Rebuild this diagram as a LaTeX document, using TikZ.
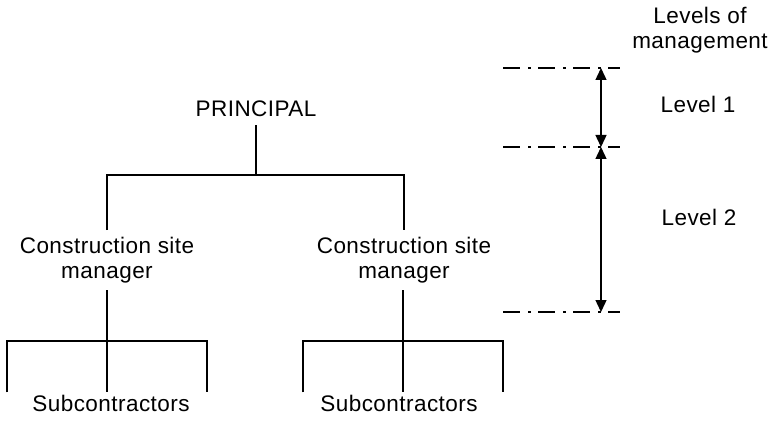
\documentclass[tikz,border=0pt]{standalone}
\usepackage{fontspec}
\setmainfont{Liberation Sans}[LetterSpace=2]
\usetikzlibrary{arrows.meta}
\begin{document}
\begin{tikzpicture}[x=1pt,y=-1pt,
  txt/.style={inner sep=0pt,font=\fontsize{22.5}{25}\selectfont,align=center},
  tree/.style={line width=1.8pt},
  levelline/.style={line width=1.6pt,dash pattern=on 17pt off 8pt on 3pt off 7pt},
  span/.style={line width=1.4pt,{Triangle[length=12pt,width=11pt]}-{Triangle[length=12pt,width=11pt]}}]
\useasboundingbox[fill=white] (0,0) rectangle (773,422);

% top of the hierarchy
\node[txt,anchor=base,inner ysep=8pt] (pr) at (256,117) {PRINCIPAL};
\coordinate (j0) at (256,175);
\coordinate (jL) at (107,175);
\coordinate (jR) at (404,175);

% site managers
\node[txt,anchor=north,inner ysep=7pt] (m1) at (107,230) {Construction site\\manager};
\node[txt,anchor=north,inner ysep=7pt] (m2) at (404,230) {Construction site\\manager};

% subcontractor groups
\coordinate (a0) at (107,341);
\coordinate (aL) at (7,341);
\coordinate (aR) at (207,341);
\coordinate (b0) at (403,341);
\coordinate (bL) at (303,341);
\coordinate (bR) at (503,341);
\node[txt,anchor=base,inner ysep=2pt] (s1) at (111,411) {Subcontractors};
\node[txt,anchor=base,inner ysep=2pt] (s2) at (399,411) {Subcontractors};

% tree connectors
\draw[tree] (pr.south) -- (j0);
\draw[tree] (jL |- m1.north) -- (jL) -- (jR) -- (jR |- m2.north);
\draw[tree] (a0 |- m1.south) -- (a0);
\draw[tree] (aL |- s1.north) -- (aL) -- (aR) -- (aR |- s1.north);
\draw[tree] (a0) -- (a0 |- s1.north);
\draw[tree] (b0 |- m2.south) -- (b0);
\draw[tree] (bL |- s2.north) -- (bL) -- (bR) -- (bR |- s2.north);
\draw[tree] (b0) -- (b0 |- s2.north);

% levels of management
\node[txt] (lh) at (700,30) {Levels of\\management};
\node[txt,anchor=base] (lv1) at (698,113) {Level 1};
\node[txt,anchor=base] (lv2) at (699,225) {Level 2};

\coordinate (d1a) at (503,68);  \coordinate (d1b) at (620,68);
\coordinate (d2a) at (503,147); \coordinate (d2b) at (620,147);
\coordinate (d3a) at (503,312); \coordinate (d3b) at (620,312);
\coordinate (t1) at (601,68);
\coordinate (t2) at (601,147);
\coordinate (t3) at (601,312);

\draw[levelline] (d1a) -- (d1b);
\draw[levelline] (d2a) -- (d2b);
\draw[levelline] (d3a) -- (d3b);
\draw[span] (t1) -- (t2);
\draw[span] (t2) -- (t3);
\end{tikzpicture}
\end{document}
